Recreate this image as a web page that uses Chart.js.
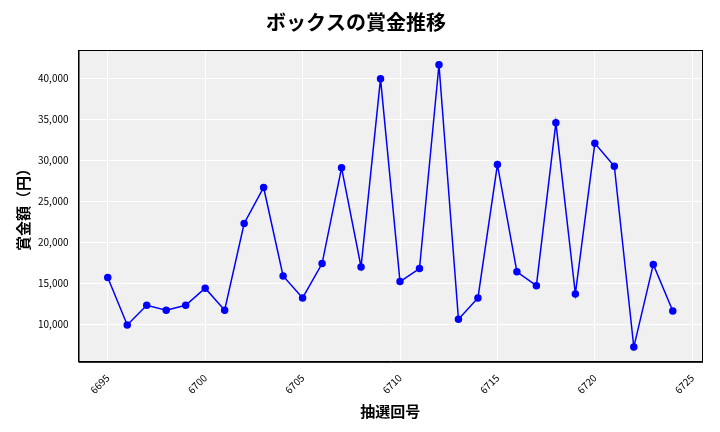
<!DOCTYPE html>
<html><head><meta charset="utf-8">
<script src="https://cdn.jsdelivr.net/npm/chart.js@4"></script>
<style>body{margin:0;background:#fff}#w{width:720px;height:432px}</style>
</head><body><div id="w"><canvas id="c"></canvas></div>
<script>
const draws=[6695,6696,6697,6698,6699,6700,6701,6702,6703,6704,6705,6706,6707,6708,6709,6710,6711,6712,6713,6714,6715,6716,6717,6718,6719,6720,6721,6722,6723,6724];
const prizes=[15700,9900,12300,11700,12300,14400,11700,22300,26700,15900,13200,17400,29100,17000,40000,15200,16800,41700,10600,13200,29500,16400,14700,34600,13700,32100,29300,7200,17300,11600];
const xTicks=[6695,6700,6705,6710,6715,6720,6725];
const yTicks=[10000,15000,20000,25000,30000,35000,40000];
const F='"Noto Sans CJK JP"';
const bg={id:'bg',beforeDraw(c){const a=c.chartArea,x=c.ctx;x.save();x.fillStyle='#f0f0f0';x.fillRect(a.left,a.top,a.right-a.left,a.bottom-a.top);x.restore();},
afterDraw(c){const a=c.chartArea,x=c.ctx;x.save();x.strokeStyle='#000';x.lineWidth=1;x.strokeRect(a.left+0.5,a.top+0.5,a.right-a.left,a.bottom-a.top);x.restore();}};
new Chart(document.getElementById('c'),{type:'line',
data:{datasets:[{data:draws.map((d,i)=>({x:d,y:prizes[i]})),borderColor:'#0000ff',backgroundColor:'#0000ff',borderWidth:1.5,pointRadius:3,tension:0}]},
options:{responsive:true,maintainAspectRatio:false,animation:false,
layout:{padding:{left:10,right:18,top:8,bottom:8}},
plugins:{legend:{display:false},title:{display:true,text:'ボックスの賞金推移',font:{family:F,size:20,weight:'bold'},color:'#000',padding:{top:2,bottom:16}}},
scales:{
x:{type:'linear',min:6693.5,max:6725.5,afterBuildTicks(s){s.ticks=xTicks.map(v=>({value:v}));},
ticks:{maxRotation:45,minRotation:45,padding:2,color:'#000',font:{family:F,size:10},callback:v=>String(v)},
grid:{color:'#fff'},border:{color:'#000'},
title:{display:true,text:'抽選回号',font:{family:F,size:15,weight:'bold'},color:'#000'}},
y:{min:5400,max:43500,afterBuildTicks(s){s.ticks=yTicks.map(v=>({value:v}));},
ticks:{padding:2,color:'#000',font:{family:F,size:10},callback:v=>v.toLocaleString('en-US')},
grid:{color:'#fff'},border:{color:'#000'},
title:{display:true,text:'賞金額（円）',font:{family:F,size:15,weight:'bold'},color:'#000'}}}},
plugins:[bg]});
</script></body></html>
